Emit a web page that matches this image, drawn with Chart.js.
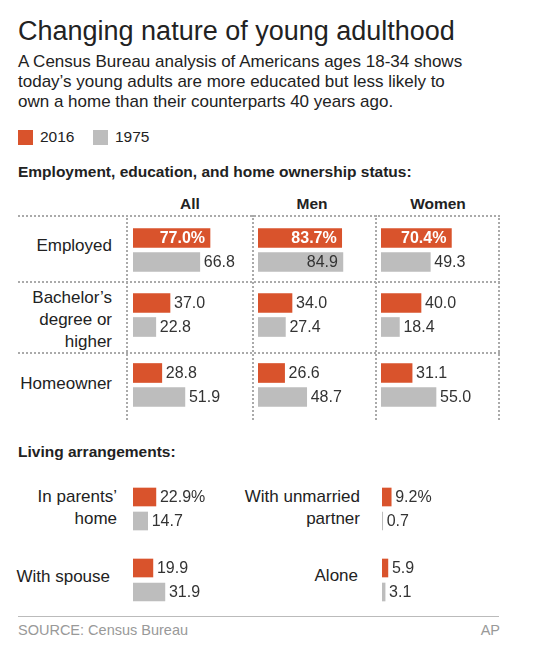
<!DOCTYPE html>
<html><head><meta charset="utf-8">
<script src="https://cdn.jsdelivr.net/npm/chart.js@4"></script>
<style>
body{margin:0;background:#fff;font-family:"Liberation Sans","LiberationSans",Arimo,Arial,Helvetica,"DejaVu Sans",sans-serif;color:#222;}
#wrap{position:relative;width:534px;height:650px;overflow:hidden;}
.t{position:absolute;white-space:nowrap;}
.r{text-align:right;}
.hl{position:absolute;border-top:2px dotted #aaa;height:0;}
.vl{position:absolute;border-left:2px dotted #aaa;width:0;}
canvas{position:absolute;}
</style></head><body><div id="wrap">
<div class="t" style="left:18px;top:16px;font-size:27px;">Changing nature of young adulthood</div>
<div class="t" style="left:18px;top:52px;font-size:17px;line-height:20px;">A Census Bureau analysis of Americans ages 18-34 shows<br>today’s young adults are more educated but less likely to<br>own a home than their counterparts 40 years ago.</div>
<div style="position:absolute;left:18px;top:130px;width:15px;height:15px;background:#d9532c"></div>
<div class="t" style="left:40px;top:128px;font-size:15.5px;">2016</div>
<div style="position:absolute;left:93px;top:130px;width:15px;height:15px;background:#bdbdbd"></div>
<div class="t" style="left:115px;top:128px;font-size:15.5px;">1975</div>
<div class="t" style="left:18px;top:163px;font-size:15.5px;font-weight:bold;">Employment, education, and home ownership status:</div>
<div class="t" style="left:160px;top:195px;width:60px;text-align:center;font-size:15.5px;font-weight:bold;">All</div>
<div class="t" style="left:282px;top:195px;width:60px;text-align:center;font-size:15.5px;font-weight:bold;">Men</div>
<div class="t" style="left:398px;top:195px;width:80px;text-align:center;font-size:15.5px;font-weight:bold;">Women</div>
<div class="hl" style="left:18px;top:215px;width:482px"></div>
<div class="hl" style="left:18px;top:281px;width:482px"></div>
<div class="hl" style="left:18px;top:352px;width:482px"></div>
<div class="vl" style="left:126px;top:215px;height:205px"></div>
<div class="vl" style="left:252px;top:215px;height:205px"></div>
<div class="vl" style="left:375px;top:215px;height:205px"></div>
<div class="vl" style="left:498px;top:215px;height:205px"></div>
<div class="t r" style="right:422px;top:236px;font-size:17px;">Employed</div>
<div class="t r" style="right:422px;top:287px;font-size:17px;line-height:22px;">Bachelor’s<br>degree or<br>higher</div>
<div class="t r" style="right:422px;top:374px;font-size:17px;">Homeowner</div>
<div class="t" style="left:18px;top:443px;font-size:15.5px;font-weight:bold;">Living arrangements:</div>
<div class="t r" style="right:417px;top:486px;font-size:17px;line-height:22px;">In parents’<br>home</div>
<div class="t r" style="right:174px;top:486px;font-size:17px;line-height:22px;">With unmarried<br>partner</div>
<div class="t r" style="right:424px;top:567px;font-size:17px;">With spouse</div>
<div class="t r" style="right:176px;top:566px;font-size:17px;">Alone</div>
<div style="position:absolute;left:18px;top:616px;width:481px;border-top:1px solid #bbb"></div>
<div class="t" style="left:18px;top:622px;font-size:14.5px;color:#999;">SOURCE: Census Bureau</div>
<div class="t" style="right:34px;top:622px;font-size:14.5px;color:#999;">AP</div>
</div>
<script>
const ORANGE='#d9532c', GRAY='#bdbdbd';
const FONT='"Liberation Sans",Arimo,Arial,sans-serif';
const groups=['All','Men','Women'];
const rows=['Employed','Bachelor\u2019s degree or higher','Homeowner'];
const emp2016=[77.0,83.7,70.4];
const emp1975=[66.8,84.9,49.3];
const bach2016=[37.0,34.0,40.0];
const bach1975=[22.8,27.4,18.4];
const home2016=[28.8,26.6,31.1];
const home1975=[51.9,48.7,55.0];
const living=['In parents\u2019 home','With unmarried partner','With spouse','Alone'];
const living2016=[22.9,9.2,19.9,5.9];
const living1975=[14.7,0.7,31.9,3.1];

const labelPlugin={id:'lbl',afterDatasetsDraw(c){
  const ctx=c.ctx,meta=c.getDatasetMeta(0),o=c.options.plugins.lbl;
  meta.data.forEach((b,i)=>{
    const v=c.data.datasets[0].data[i];
    let txt=v.toFixed(1)+(o.pct&&i===0?'%':'');
    const inside=(o.inside0&&i===0)||v>80;
    ctx.save();ctx.textBaseline='middle';
    if(inside){ctx.font=(i===0?'bold ':'')+'16px '+FONT;ctx.fillStyle=i===0?'#fff':'#333';ctx.textAlign='right';ctx.fillText(txt,b.x-5,b.y+1);}
    else{ctx.font='16px '+FONT;ctx.fillStyle='#333';ctx.textAlign='left';ctx.fillText(txt,b.x+4,b.y+1);}
    ctx.restore();
  });
}};
function cell(left,top,w,a,b,th,opts){
  const cv=document.createElement('canvas');cv.width=w;cv.height=48;
  cv.style.left=left+'px';cv.style.top=top+'px';cv.style.width=w+'px';cv.style.height='48px';
  document.getElementById('wrap').appendChild(cv);
  new Chart(cv,{type:'bar',data:{labels:['2016','1975'],datasets:[{data:[a,b],backgroundColor:[ORANGE,GRAY],barThickness:th}]},
    options:{indexAxis:'y',responsive:false,animation:false,events:[],devicePixelRatio:1,layout:{padding:0},
      plugins:{legend:{display:false},tooltip:{enabled:false},lbl:opts},
      scales:{x:{display:false,min:0,max:w},y:{display:false}}},plugins:[labelPlugin]});
}
const colX=[133,258,381], W=118;
const rowData=[[emp2016,emp1975,225.5,{pct:true,inside0:true}],[bach2016,bach1975,290.5,{}],[home2016,home1975,360.5,{}]];
rowData.forEach(r=>groups.forEach((g,j)=>cell(colX[j],r[2],W,r[0][j],r[1][j],19,r[3])));
const livPos=[[133,485],[382,485],[133,556],[382,556]];
living.forEach((l,i)=>cell(livPos[i][0],livPos[i][1],110,living2016[i],living1975[i],18,{pct:i<2}));
</script></body></html>
